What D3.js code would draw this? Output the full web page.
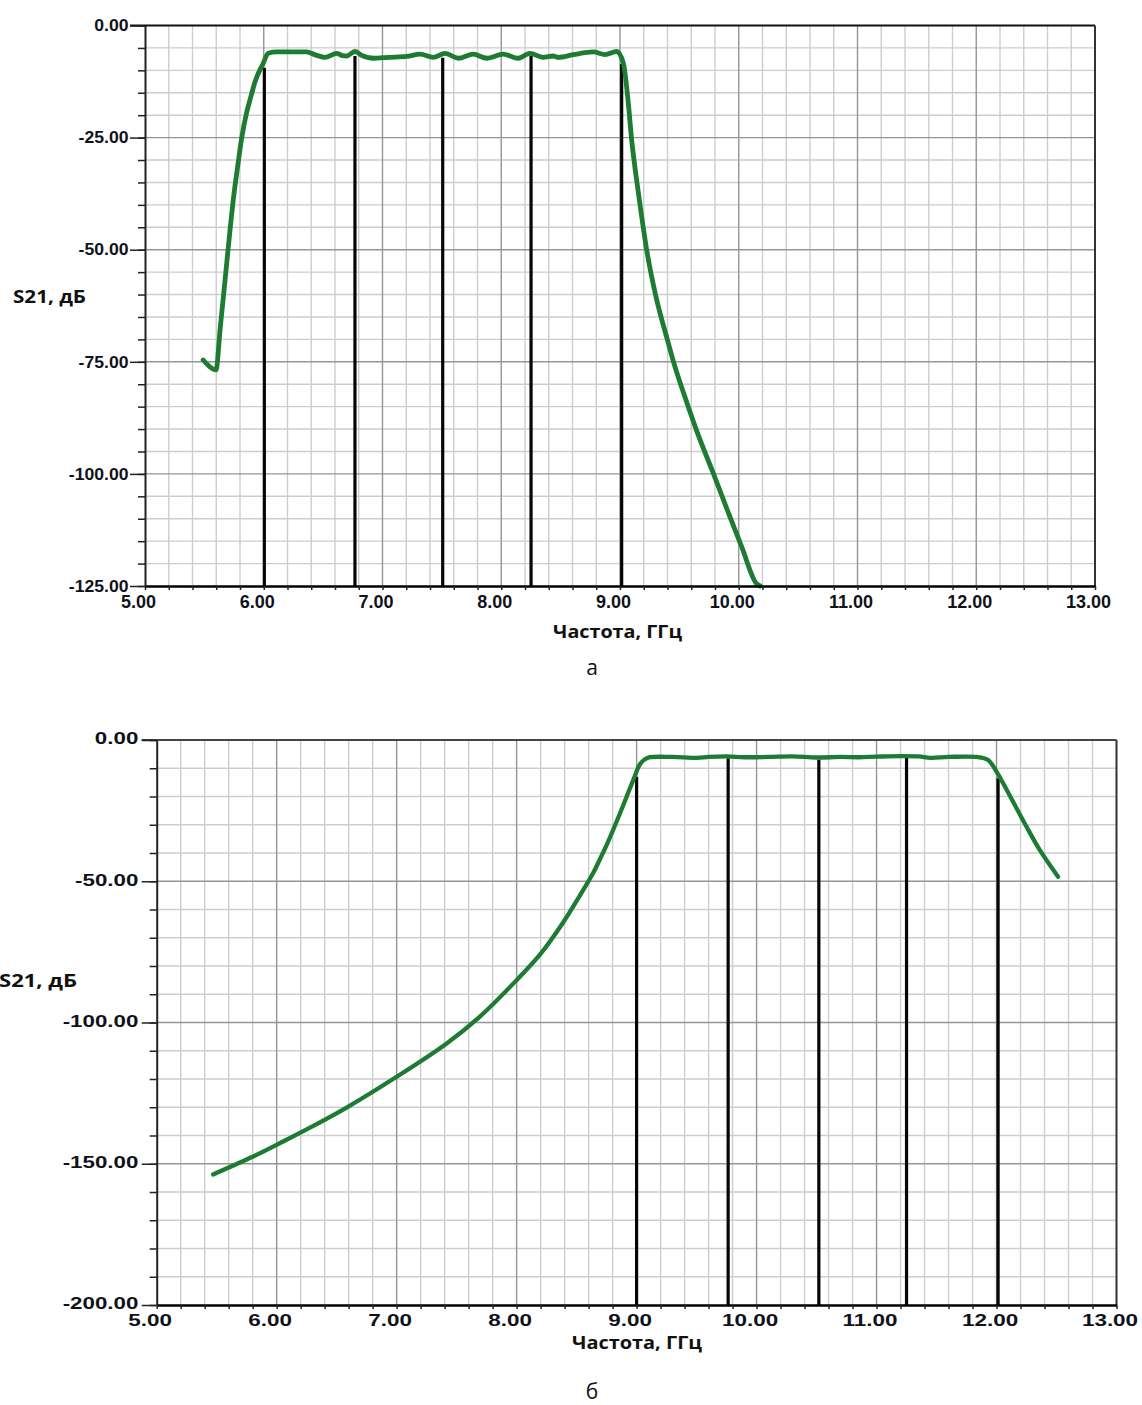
<!DOCTYPE html>
<html>
<head>
<meta charset="utf-8">
<script src="https://cdn.jsdelivr.net/npm/d3@7"></script>
<style>
  body { margin: 0; background: #fff; }
  svg { display: block; }
</style>
</head>
<body>
<svg id="fig" width="1142" height="1405"></svg>
<script>
// ---- Panel (а): S21 of the 6–9 GHz filter ----
const freqA = [5.49, 5.598, 5.632, 5.674, 5.716, 5.743, 5.78, 5.814, 5.855, 5.884, 5.926, 5.996, 6.038, 6.109,
  6.36, 6.44, 6.516, 6.614, 6.66, 6.698, 6.768, 6.82, 6.923, 7.05, 7.204, 7.316, 7.428, 7.526, 7.638,
  7.765, 7.877, 8.017, 8.143, 8.242, 8.354, 8.438, 8.48, 8.606, 8.775, 8.874, 8.972, 9.028, 9.07,
  9.098, 9.13, 9.163, 9.225, 9.303, 9.394, 9.455, 9.562, 9.646, 9.786, 9.926, 10.025, 10.151, 10.18];
const s21A = [-74.6, -76.8, -67.9, -56.8, -45.6, -38.9, -31.5, -25.1, -19.5, -16.6, -12.6, -8.4, -6.2, -5.9,
  -5.9, -6.6, -7.1, -6.2, -6.7, -6.8, -5.8, -6.6, -7.3, -7.1, -6.9, -6.4, -7.1, -6.2, -7.3,
  -6.4, -7.3, -6.4, -7.3, -6.2, -7.1, -6.8, -7.1, -6.5, -5.9, -6.5, -5.8, -8.4, -17.3,
  -25.5, -32.5, -38.9, -50.1, -60.5, -69.6, -75.4, -84.0, -90.4, -99.9, -109.6, -116.3, -124.5, -125.0];
const markerFreqA = [6.005, 6.768, 7.507, 8.251, 9.014];
const markerTopA = [-9.4, -6.8, -7.2, -6.8, -8.6];
const dbTicksA = [0, -25, -50, -75, -100, -125];

// ---- Panel (б): S21 of the 9–12 GHz filter ----
const freqB = [5.47, 5.78, 6.05, 6.305, 6.583, 7.0, 7.417, 7.694, 8.0, 8.194, 8.389, 8.528, 8.639,
  8.694, 8.75, 8.861, 8.972, 9.028, 9.07, 9.111, 9.3, 9.5, 9.6, 9.75, 9.9, 10.1, 10.3, 10.5, 10.7,
  10.85, 11.0, 11.2, 11.35, 11.45, 11.6, 11.833, 11.93, 12.0, 12.055, 12.25, 12.36, 12.513];
const s21B = [-153.8, -147.9, -142.2, -136.6, -130.1, -119.2, -107.4, -97.9, -85.0, -76.0, -64.5, -55.0, -47.0,
  -42.2, -37.2, -26.0, -14.2, -8.6, -6.8, -6.1, -6.0, -6.3, -6.0, -5.8, -6.1, -6.0, -5.8, -6.2, -6.0,
  -6.1, -5.9, -5.7, -5.8, -6.3, -6.0, -6.0, -7.1, -11.2, -15.3, -30.7, -38.9, -48.4];
const markerFreqB = [9.0, 9.763, 10.519, 11.25, 12.013];
const markerTopB = [-13.0, -6.5, -7.0, -6.2, -13.5];
const dbTicksB = [0, -50, -100, -150, -200];

// ---- shared labels ----
const freqTicks = [5, 6, 7, 8, 9, 10, 11, 12, 13];
const yTitle = "S21, дБ";
const xTitle = "Частота, ГГц";
const panelLabels = ["а", "б"];

const svg = d3.select("#fig");
svg.append("rect").attr("width", 1142).attr("height", 1405).attr("fill", "#fff");

const curveColor = "#1e7b34";
const labelFont = "'Liberation Sans', Arial, sans-serif";
const titleFont = "'Open Sans', 'Noto Sans', sans-serif";

function stretchText(sel, k) {
  sel.each(function () {
    const w = this.getComputedTextLength();
    this.setAttribute("textLength", w * k);
    this.setAttribute("lengthAdjust", "spacingAndGlyphs");
  });
}

function drawPanel(cfg) {
  const x = d3.scaleLinear().domain([5, 13]).range(cfg.xr);
  const y = d3.scaleLinear().domain([cfg.dbTicks[cfg.dbTicks.length - 1], 0]).range(cfg.yr);
  const g = svg.append("g");
  const [x0, x1] = cfg.xr, [y1, y0] = cfg.yr;

  const minorF = d3.range(50, 131, 2).map(v => v / 10);
  const dbMin = cfg.dbTicks[cfg.dbTicks.length - 1];
  const minorDb = d3.range(dbMin, 0.001, cfg.minorDb);

  // minor grid
  g.append("g").selectAll("line").data(minorF.filter(f => f % 1 !== 0)).join("line")
    .attr("x1", d => x(d)).attr("x2", d => x(d)).attr("y1", y0).attr("y2", y1)
    .attr("stroke", "#cdcdcd").attr("stroke-width", 1.4);
  g.append("g").selectAll("line").data(minorDb.filter(v => !cfg.dbTicks.includes(v))).join("line")
    .attr("x1", x0).attr("x2", x1).attr("y1", d => y(d)).attr("y2", d => y(d))
    .attr("stroke", "#cdcdcd").attr("stroke-width", 1.4);
  // major grid
  g.append("g").selectAll("line").data(freqTicks.slice(1, -1)).join("line")
    .attr("x1", d => x(d)).attr("x2", d => x(d)).attr("y1", y0).attr("y2", y1)
    .attr("stroke", "#959595").attr("stroke-width", 1.4);
  g.append("g").selectAll("line").data(cfg.dbTicks.slice(1, -1)).join("line")
    .attr("x1", x0).attr("x2", x1).attr("y1", d => y(d)).attr("y2", d => y(d))
    .attr("stroke", "#959595").attr("stroke-width", 1.4);

  // frame: top and right
  g.append("line").attr("x1", x0 - 15).attr("x2", x1).attr("y1", y0).attr("y2", y0)
    .attr("stroke", cfg.topColor).attr("stroke-width", 2);
  g.append("line").attr("x1", x1).attr("x2", x1).attr("y1", y0).attr("y2", y1)
    .attr("stroke", "#333").attr("stroke-width", 2);

  // vertical markers
  g.append("g").selectAll("line").data(cfg.markerFreq).join("line")
    .attr("x1", d => x(d)).attr("x2", d => x(d))
    .attr("y1", y(dbMin)).attr("y2", (d, i) => y(cfg.markerTop[i]))
    .attr("stroke", "#050505").attr("stroke-width", 3.2);

  // S21 curve
  const pts = cfg.freq.map((f, i) => [f, cfg.s21[i]]);
  g.append("path").datum(pts)
    .attr("d", d3.line().x(d => x(d[0])).y(d => y(d[1])).curve(cfg.curve))
    .attr("fill", "none").attr("stroke", curveColor).attr("stroke-width", cfg.curveWidth)
    .attr("stroke-linejoin", "round").attr("stroke-linecap", "round");

  // left axis: minor ticks
  g.append("g").attr("transform", `translate(${x0},0)`)
    .call(d3.axisLeft(y).tickValues(minorDb).tickSize(7).tickSizeOuter(0).tickFormat(""))
    .call(a => a.selectAll("line").attr("stroke", "#222").attr("stroke-width", 1.5))
    .call(a => a.select(".domain").attr("stroke", "#222").attr("stroke-width", 2));
  // left axis: labelled ticks
  const ya = g.append("g").attr("transform", `translate(${x0},0)`)
    .call(d3.axisLeft(y).tickValues(cfg.dbTicks).tickSize(15).tickSizeOuter(0)
      .tickPadding(cfg.yPad).tickFormat(d => d.toFixed(2)))
    .call(a => a.select(".domain").remove())
    .call(a => a.selectAll("line").attr("stroke", "#222").attr("stroke-width", 1.5));
  ya.selectAll("text").attr("font-family", labelFont).attr("font-weight", "bold")
    .attr("font-size", cfg.yFs).attr("fill", "#10121a").attr("dy", cfg.yDy);
  stretchText(ya.selectAll("text"), cfg.yStretch);

  // bottom axis: minor ticks
  g.append("g").attr("transform", `translate(0,${y1})`)
    .call(d3.axisBottom(x).tickValues(minorF).tickSize(4).tickSizeOuter(0).tickFormat(""))
    .call(a => a.selectAll("line").attr("stroke", "#222").attr("stroke-width", 1.5))
    .call(a => a.select(".domain").attr("stroke", "#000").attr("stroke-width", 2.6));
  // bottom axis: labels
  const xa = g.append("g").attr("transform", `translate(0,${y1})`)
    .call(d3.axisBottom(x).tickValues(freqTicks).tickSize(4).tickSizeOuter(0)
      .tickPadding(cfg.xPad).tickFormat(d => d.toFixed(2)))
    .call(a => a.select(".domain").remove())
    .call(a => a.selectAll("line").remove());
  xa.selectAll("text").attr("font-family", labelFont).attr("font-weight", "bold")
    .attr("font-size", cfg.xFs).attr("fill", "#10121a").attr("dx", -7);
  stretchText(xa.selectAll("text"), cfg.xStretch);

  // axis titles
  g.append("text").text(yTitle).attr("x", cfg.yTitlePos[0]).attr("y", cfg.yTitlePos[1])
    .attr("font-family", titleFont).attr("font-weight", 700).attr("font-size", 18)
    .attr("fill", "#111").attr("textLength", cfg.yTitleW).attr("lengthAdjust", "spacingAndGlyphs");
  g.append("text").text(xTitle).attr("x", cfg.xTitlePos[0]).attr("y", cfg.xTitlePos[1])
    .attr("text-anchor", "middle")
    .attr("font-family", titleFont).attr("font-weight", 700).attr("font-size", 18)
    .attr("fill", "#111").attr("textLength", cfg.xTitleW).attr("lengthAdjust", "spacingAndGlyphs");
  g.append("text").text(cfg.panel).attr("x", 592).attr("y", cfg.panelY)
    .attr("text-anchor", "middle").attr("font-family", titleFont).attr("font-size", 21)
    .attr("fill", "#111");
}

drawPanel({
  xr: [145, 1095], yr: [586, 25.5], dbTicks: dbTicksA, minorDb: 5,
  freq: freqA, s21: s21A, markerFreq: markerFreqA, markerTop: markerTopA,
  curve: d3.curveMonotoneX, curveWidth: 4.8, topColor: "#111",
  yFs: 16, yDy: "0.33em", yPad: 1.5, yStretch: 1.1,
  xFs: 18, xPad: 5, xStretch: 1.0,
  yTitlePos: [13, 303], yTitleW: 73, xTitlePos: [617.5, 638], xTitleW: 129,
  panel: panelLabels[0], panelY: 675
});

drawPanel({
  xr: [156.7, 1116.5], yr: [1305, 740], dbTicks: dbTicksB, minorDb: 10,
  freq: freqB, s21: s21B, markerFreq: markerFreqB, markerTop: markerTopB,
  curve: d3.curveCatmullRom.alpha(0.5), curveWidth: 4.3, topColor: "#444",
  yFs: 16.3, yDy: "0.23em", yPad: 3.4, yStretch: 1.37,
  xFs: 17.3, xPad: 4.4, xStretch: 1.3,
  yTitlePos: [-1, 987], yTitleW: 78, xTitlePos: [637, 1349], xTitleW: 130,
  panel: panelLabels[1], panelY: 1399
});
</script>
</body>
</html>
